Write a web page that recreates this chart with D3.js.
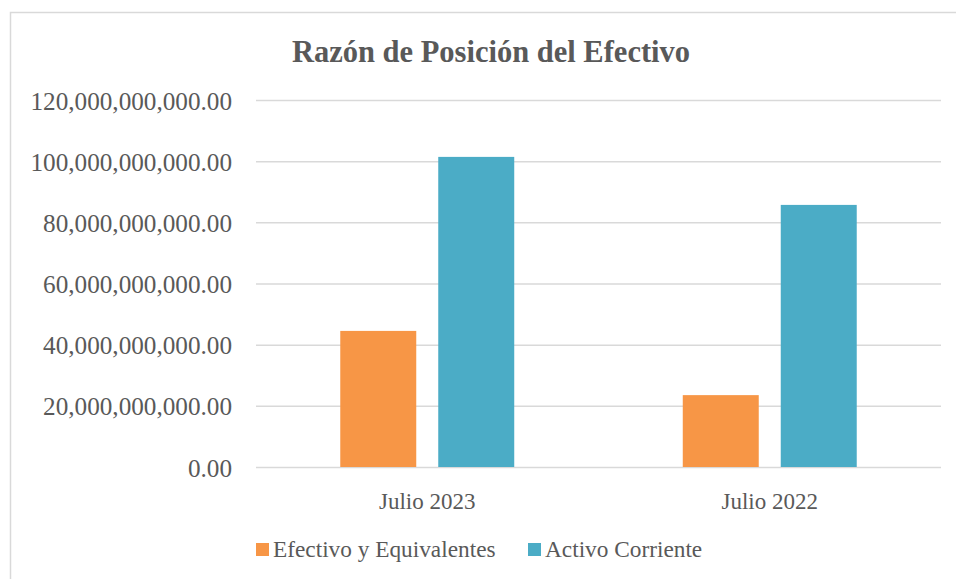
<!DOCTYPE html>
<html>
<head>
<meta charset="utf-8">
<script src="https://cdn.jsdelivr.net/npm/d3@7/dist/d3.min.js"></script>
<style>
  html, body { margin: 0; padding: 0; background: #fff; }
  svg { display: block; }
  text { font-family: "Liberation Serif", "DejaVu Serif", serif; fill: #595959; }
</style>
</head>
<body>
<svg id="chart" width="956" height="579"></svg>
<script>
const title = "Razón de Posición del Efectivo";
const categories = ["Julio 2023", "Julio 2022"];
const seriesNames = ["Efectivo y Equivalentes", "Activo Corriente"];
const efectivo = [44.5e9, 23.5e9];
const activoCorriente = [101.4e9, 85.7e9];
const yTicks = [0, 20e9, 40e9, 60e9, 80e9, 100e9, 120e9];
const colors = ["#F79646", "#4BACC6"];

const seriesValues = [efectivo, activoCorriente];
const data = categories.map((c, i) => ({
  cat: c,
  vals: seriesNames.map((s, j) => ({ s, v: seriesValues[j][i], j }))
}));

const svg = d3.select("#chart");
const W = 956, H = 579;
const plot = { left: 256, right: 941, top: 100, bottom: 467 };

// chart border
svg.append("rect")
  .attr("x", 10.5).attr("y", 12.5)
  .attr("width", W + 10).attr("height", H + 10)
  .attr("fill", "none").attr("stroke", "#d9d9d9").attr("stroke-width", 1.5);

const y = d3.scaleLinear().domain([0, 120e9]).range([plot.bottom, plot.top]);
const x0 = d3.scaleBand().domain(categories).range([plot.left, plot.right]).padding(0);
const x1 = d3.scaleBand().domain(seriesNames).range([0, x0.bandwidth()])
  .paddingInner(0.2245).paddingOuter(0.86);

const fmt = d3.format(",.2f");

// gridlines
const yAxis = d3.axisLeft(y).tickValues(yTicks).tickSize(-(plot.right - plot.left)).tickFormat(fmt).tickPadding(24);
const gy = svg.append("g").attr("transform", `translate(${plot.left},0)`).call(yAxis);
gy.select(".domain").remove();
gy.selectAll(".tick line").attr("stroke", "#d9d9d9").attr("stroke-width", 1.5);
gy.selectAll(".tick text")
  .attr("font-size", 25.2)
  .attr("fill", "#595959")
  .attr("dy", "0.36em")
  .style("font-family", '"Liberation Serif", serif');

// bars
const groups = svg.append("g").selectAll("g").data(data).join("g")
  .attr("transform", d => `translate(${x0(d.cat)},0)`);
groups.selectAll("rect").data(d => d.vals).join("rect")
  .attr("x", d => x1(d.s))
  .attr("width", x1.bandwidth())
  .attr("y", d => y(d.v))
  .attr("height", d => y(0) - y(d.v))
  .attr("fill", d => colors[d.j]);

// x axis
const xAxis = d3.axisBottom(x0).tickSize(0).tickPadding(26);
const gx = svg.append("g").attr("transform", `translate(0,${plot.bottom})`).call(xAxis);
gx.select(".domain").remove();
gx.selectAll(".tick text")
  .attr("font-size", 23)
  .attr("fill", "#595959")
  .style("font-family", '"Liberation Serif", serif');

// title
svg.append("text")
  .attr("x", 491).attr("y", 62)
  .attr("text-anchor", "middle")
  .attr("font-size", 30.5)
  .attr("font-weight", "bold")
  .text(title);

// legend
const legendX = [256, 528];
const lg = svg.append("g").selectAll("g").data(seriesNames).join("g")
  .attr("transform", (d, i) => `translate(${legendX[i]},543)`);
lg.append("rect").attr("width", 13).attr("height", 13).attr("fill", (d, i) => colors[i]);
lg.append("text").attr("x", 17).attr("y", 14).attr("font-size", 23.3).text(d => d);
</script>
</body>
</html>
